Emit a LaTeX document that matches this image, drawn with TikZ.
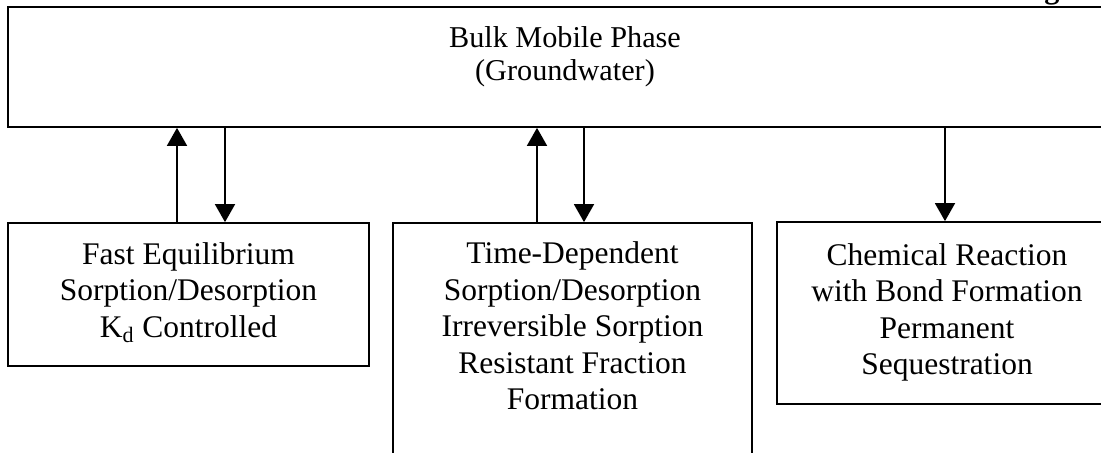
\documentclass[tikz,border=0pt]{standalone}
\usepackage{fontspec}
\setmainfont{Liberation Serif}
\usetikzlibrary{arrows.meta}
\usetikzlibrary{calc}

\begin{document}
\begin{tikzpicture}[x=0.025cm,y=-0.025cm,line width=1.2pt,
  box/.style={draw,rectangle,inner sep=0pt},
  txt/.style={align=center,inner sep=0pt,font=\fontsize{22.4}{25.9}\selectfont},
  flow/.style={-{Triangle[width=0.5cm,length=0.45cm]}}]
  \useasboundingbox (0,0) rectangle (1101,453);

  \node (bulk) at (565,67)[box,minimum width=27.85cm,minimum height=3cm]{};
  \node (fast) at (188.5,294.5)[box,minimum width=9.025cm,minimum height=3.575cm]{};
  \node (slow) at (572.5,351.5)[box,minimum width=8.975cm,minimum height=6.425cm]{};
  \node (chem) at (947,313)[box,minimum width=8.5cm,minimum height=4.55cm]{};

  \node (bulktxt) at (565,56.5)[txt,font=\fontsize{21.5}{23.4}\selectfont]{Bulk Mobile Phase\\(Groundwater)};
  \node (fasttxt) at (188.5,292.5)[txt]{Fast Equilibrium\\Sorption/Desorption\\K\textsubscript{d} Controlled};
  \node (slowtxt) at (572.5,326)[txt]{Time-Dependent\\Sorption/Desorption\\Irreversible Sorption\\Resistant Fraction\\Formation};
  \node (chemtxt) at (947,312.5)[txt]{Chemical Reaction\\with Bond Formation\\Permanent\\Sequestration};
  \node (pg) at (1052,-1)[anchor=base,font=\fontsize{21.5}{26}\selectfont\bfseries]{g};

  \coordinate (fastup) at ($(fast.north)+(-11.5,0)$);
  \coordinate (fastdn) at ($(fast.north)+(36.5,0)$);
  \coordinate (slowup) at ($(slow.north)+(-35.5,0)$);
  \coordinate (slowdn) at ($(slow.north)+(11.5,0)$);
  \coordinate (chemdn) at ($(chem.north)+(-2,0)$);

  \draw[flow](fastup)--(fastup |- bulk.south);
  \draw[flow](fastdn |- bulk.south)--(fastdn);
  \draw[flow](slowup)--(slowup |- bulk.south);
  \draw[flow](slowdn |- bulk.south)--(slowdn);
  \draw[flow](chemdn |- bulk.south)--(chemdn);
\end{tikzpicture}
\end{document}
